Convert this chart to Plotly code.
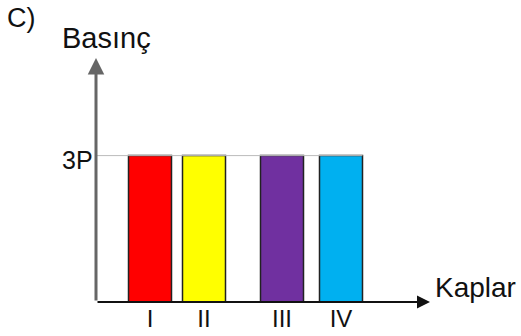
import plotly.graph_objects as go

# Data
categories = ["I", "II", "III", "IV"]
pressures = [3, 3, 3, 3]
bar_x = [54, 108, 186, 245]          # bar centres on the (unlabelled) x scale
bar_width = 43
colors = ["#FF0000", "#FFFF00", "#7030A0", "#00B0F0"]
y_tick_vals = [3]
y_tick_text = ["3P"]

X_MAX = 334
Y_MAX = 5.0

fig = go.Figure()

# reference line at 3P from y-axis to the right edge of the last bar
fig.add_trace(go.Scatter(
    x=[0, bar_x[-1] + bar_width / 2], y=[pressures[0], pressures[-1]],
    mode="lines", line=dict(color="#BBBBBB", width=1),
    hoverinfo="skip", showlegend=False))

fig.add_trace(go.Bar(
    x=bar_x, y=pressures, width=bar_width,
    marker=dict(color=colors, line=dict(color="#222222", width=1.5)),
    showlegend=False))

fig.update_layout(
    width=521, height=336,
    margin=dict(l=96, r=91, t=58, b=34, autoexpand=False),
    paper_bgcolor="white", plot_bgcolor="white",
    font=dict(family="Liberation Sans, Arial, sans-serif", color="#111111"),
    xaxis=dict(range=[0, X_MAX], showgrid=False, zeroline=False, automargin=False,
               showline=False, tickmode="array", tickvals=bar_x,
               ticktext=categories, ticks="", tickfont=dict(size=24),
               fixedrange=True),
    yaxis=dict(range=[0, Y_MAX], showgrid=False, zeroline=False, automargin=False,
               showline=False, showticklabels=False, tickmode="array",
               tickvals=y_tick_vals, ticks="", fixedrange=True),
)

# y tick label (3P), placed on the y scale
for v, t in zip(y_tick_vals, y_tick_text):
    fig.add_annotation(xref="paper", yref="y", x=0, y=v, text=t, showarrow=False,
                       xanchor="right", yanchor="middle", xshift=-1, yshift=-4,
                       font=dict(size=25))

# axes drawn as arrows
fig.add_annotation(xref="x domain", yref="y domain", axref="x domain", ayref="y domain",
                   x=1, y=0, ax=0, ay=0, text="", showarrow=True,
                   arrowhead=2, arrowsize=1.3, arrowwidth=2, arrowcolor="#111111")
fig.add_annotation(xref="x domain", yref="y domain", axref="x domain", ayref="y domain",
                   x=0, y=1, ax=0, ay=0, text="", showarrow=True,
                   arrowhead=2, arrowsize=1.1, arrowwidth=3, arrowcolor="#666666")

# texts
fig.add_annotation(xref="paper", yref="paper", x=0.03, y=1.082, text="Basınç",
                   showarrow=False, font=dict(size=29), xanchor="center", yanchor="middle")
fig.add_annotation(xref="paper", yref="paper", x=1.135, y=0.06, text="Kaplar",
                   showarrow=False, font=dict(size=28), xanchor="center", yanchor="middle")
fig.add_annotation(xref="paper", yref="paper", x=-0.222, y=1.164, text="C)",
                   showarrow=False, font=dict(size=27), xanchor="center", yanchor="middle")

# remove the default 8px page margin so the figure fills the window exactly
fig.write_html("out.html", config={"displayModeBar": False},
               post_script="document.body.style.margin='0px';")
